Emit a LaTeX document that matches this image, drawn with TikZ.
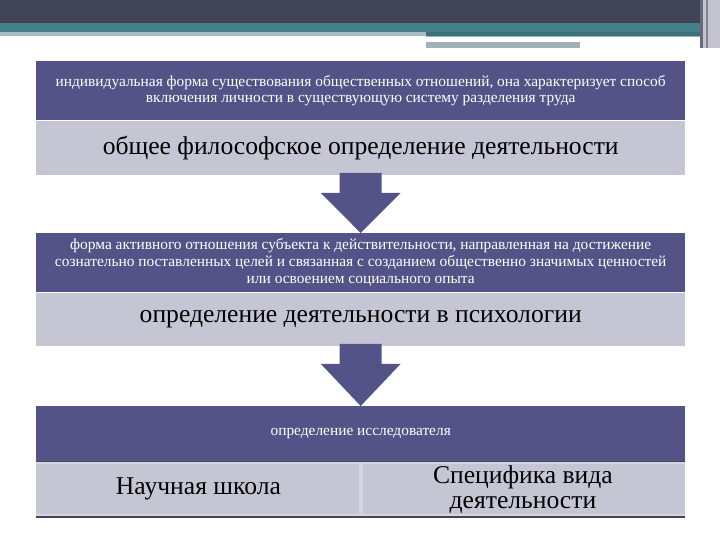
\documentclass[tikz,border=0pt]{standalone}
\usepackage{fontspec}
\setmainfont{Liberation Serif}
\newfontfamily\cyrserif{Liberation Serif}
\usetikzlibrary{calc}
\definecolor{hdark}{RGB}{64,68,86}
\definecolor{hteal}{RGB}{68,128,138}
\definecolor{hteald}{RGB}{60,112,122}
\definecolor{hline}{RGB}{168,188,196}
\definecolor{hgray}{RGB}{160,178,184}
\definecolor{hside}{RGB}{196,196,208}
\definecolor{boxdark}{RGB}{83,83,135}
\definecolor{boxlight}{RGB}{198,197,212}
\definecolor{boxhl}{RGB}{212,212,226}
\definecolor{edgedark}{RGB}{70,70,90}
\tikzset{
  darkbox/.style={fill=boxdark, text=white, minimum width=649pt, inner sep=0pt,
    align=center, font=\cyrserif\fontsize{15.4}{16.8}\selectfont},
  lightbox/.style={fill=boxlight, text=black, minimum width=649pt, inner sep=0pt,
    align=center, font=\cyrserif\fontsize{25.6}{25}\selectfont},
  halfbox/.style={fill=boxlight, text=black, minimum width=324.5pt, inner sep=0pt,
    align=center, font=\cyrserif\fontsize{25.6}{25}\selectfont},
  downarrow/.style={fill=boxdark}
}
\begin{document}
\begin{tikzpicture}[x=1pt,y=-1pt]
\useasboundingbox (0,0) rectangle (720,540);
\fill[white] (0,0) rectangle (720,540);
% header
\fill[hdark] (0,0) rectangle (720,23);
\fill[hteal] (0,23) rectangle (720,32);
\fill[hline] (0,32) rectangle (426,36);
\fill[hteald] (426,32) rectangle (700,36);
\fill[hgray] (426,36) rectangle (700,37.5);
\fill[white] (426,37.5) rectangle (670,42);
\fill[hgray] (426,42) rectangle (580,48);
\fill[hside] (700,0) rectangle (720,48);
\fill[hdark!70!hside] (700,0) rectangle (703,48);
\fill[hdark!50!hside] (706,0) rectangle (708,48);

% box 1
\node[darkbox, minimum height=59pt, anchor=north west] (d1) at (36,61)
  {индивидуальная форма существования общественных отношений, она характеризует способ\\
   включения личности в существующую систему разделения труда};
\node[lightbox, minimum height=54pt, anchor=north] (l1) at (d1.south)
  {общее философское определение деятельности};

% box 2
\node[darkbox, minimum height=59pt, anchor=north west] (d2) at (36,233)
  {форма активного отношения субъекта к действительности, направленная на достижение\\
   сознательно поставленных целей и связанная с созданием общественно значимых ценностей\\
   или освоением социального опыта};
\node[lightbox, minimum height=53pt, anchor=north] (l2) at (d2.south)
  {определение деятельности в психологии};

% box 3
\node[darkbox, minimum height=55pt, anchor=north west] (d3) at (36,406)
  {определение исследователя};
\node[halfbox, minimum height=55pt, anchor=north west] (l3a) at (d3.south west)
  {Научная школа};
\node[halfbox, minimum height=55pt, anchor=north east] (l3b) at (d3.south east)
  {Специфика вида\\деятельности};
\fill[boxhl] ($(l3a.north east)+(-2,2)$) rectangle ($(l3a.south east)+(2,-3)$);
\fill[boxhl] ($(l3a.north west)+(0,0.5)$) rectangle ($(l3b.north east)+(0,3)$);
\fill[boxhl] ($(l3a.south west)+(0,-3)$) rectangle (l3b.south east);
\draw[edgedark, line width=1pt] (d3.south west) -- (d3.south east);
\draw[edgedark, line width=1.5pt] (l3a.south west) -- (l3b.south east);

% arrows
\fill[downarrow] ($(l1.south)+(-21,-2)$) -- ($(l1.south)+(21,-2)$) -- ($(l1.south)+(21,18)$)
  -- ($(l1.south)+(40,18)$) -- (d2.north) -- ($(l1.south)+(-40,18)$) -- ($(l1.south)+(-21,18)$) -- cycle;
\fill[downarrow] ($(l2.south)+(-21,-2)$) -- ($(l2.south)+(21,-2)$) -- ($(l2.south)+(21,18)$)
  -- ($(l2.south)+(40,18)$) -- (d3.north) -- ($(l2.south)+(-40,18)$) -- ($(l2.south)+(-21,18)$) -- cycle;
\end{tikzpicture}
\end{document}
